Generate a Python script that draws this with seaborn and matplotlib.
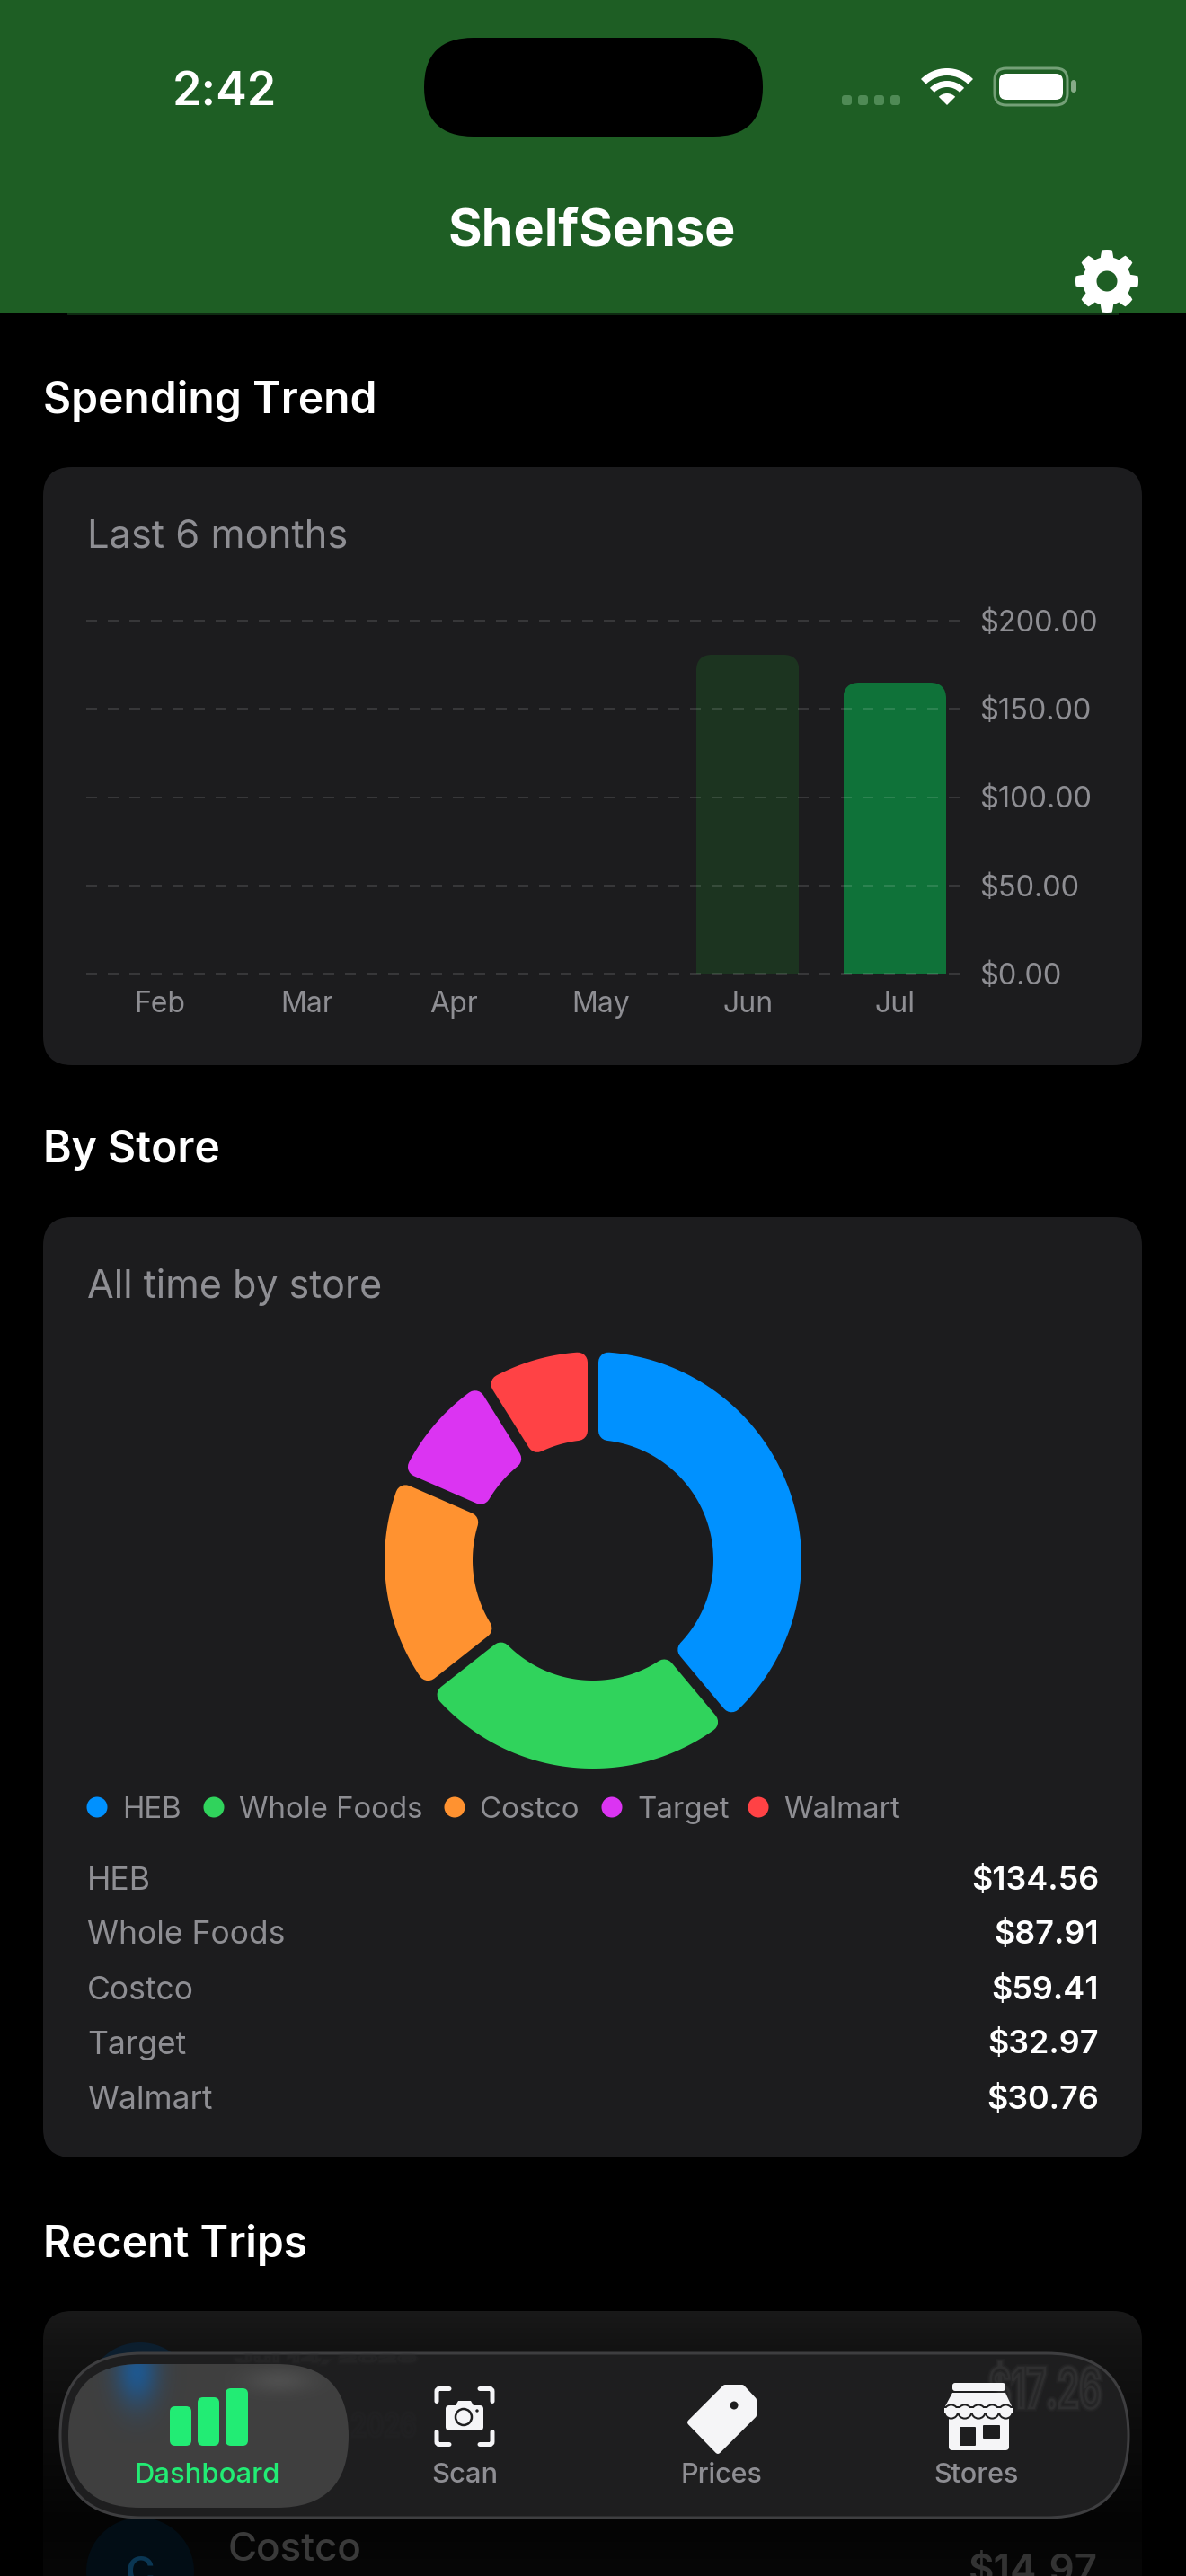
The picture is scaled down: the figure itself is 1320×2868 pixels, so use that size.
import numpy as np
import pandas as pd
import matplotlib
matplotlib.use("Agg")
import matplotlib.pyplot as plt
import seaborn as sns
from matplotlib.patches import FancyBboxPatch, Circle, Wedge, Polygon, PathPatch
from matplotlib.path import Path
from matplotlib.textpath import TextPath
from matplotlib.font_manager import FontProperties
from matplotlib.transforms import IdentityTransform

# chart data
months = ["Feb", "Mar", "Apr", "May", "Jun", "Jul"]
month_spend = [0, 0, 0, 0, 180.7, 164.9]
y_ticks = [0, 50, 100, 150, 200]
stores = ["HEB", "Whole Foods", "Costco", "Target", "Walmart"]
store_spend = [134.56, 87.91, 59.41, 32.97, 30.76]

# colours
store_colors = ["#0091FF", "#30D35C", "#FF9230", "#DB34F2", "#FF4245"]
bar_colors = ["#1C3420", "#1C3420", "#1C3420", "#1C3420", "#1C3420", "#0F7239"]
GREEN = "#1E5E24"
CARD = "#1C1C1E"
GREY = "#8E8E93"
ACTIVE = "#22EC74"
ICON = "#F5F5F7"
NAV = "#1E1E1F"
W, H = 1320, 2868

sns.set_theme(style="dark")
plt.rcParams["font.family"] = ["Inter", "DejaVu Sans"]

fig = plt.figure(figsize=(W / 100, H / 100), dpi=100, facecolor="black")


def axes_px(x0, y0, x1, y1, **kw):
    # axes from pixel box, y measured from the top
    return fig.add_axes([x0 / W, 1 - y1 / H, (x1 - x0) / W, (y1 - y0) / H], **kw)


def pt(px):
    return px * 0.72


# full page axes for the app chrome, in pixels
page = axes_px(0, 0, W, H, facecolor="black")
page.set_xlim(0, W)
page.set_ylim(H, 0)
page.axis("off")


def box(x0, y0, x1, y1, r, fc, ec="none", lw=0, z=2):
    p = FancyBboxPatch((x0, y0), x1 - x0, y1 - y0, boxstyle=f"round,pad=0,rounding_size={r}",
                       fc=fc, ec=ec, lw=pt(lw), zorder=z)
    page.add_patch(p)
    return p


def label(x, y, s, px, color="white", weight="normal", ha="left", z=6, **kw):
    return page.text(x, y, s, fontsize=pt(px), color=color, fontweight=weight, ha=ha, va="baseline", zorder=z, **kw)


def smeared(s, x0, y0, x1, y1, color, clip, z=2.1):
    # text seen through the frosted tab bar: squeezed into a box and drawn with soft strokes
    tp = TextPath((0, 0), s, size=1, prop=FontProperties(family="Inter", weight="semibold"))
    ext = tp.get_extents()
    v = tp.vertices.copy()
    v[:, 0] = x0 + (v[:, 0] - ext.x0) / ext.width * (x1 - x0)
    v[:, 1] = y1 - (v[:, 1] - ext.y0) / ext.height * (y1 - y0)
    for lw, a in [(8, 0.1), (5, 0.15), (2.5, 0.25)]:
        p = PathPatch(Path(v, tp.codes), fc="none", ec=color, lw=pt(lw), alpha=a, zorder=z)
        page.add_patch(p)
        p.set_clip_path(clip)


def soft_blob(color, cx, cy, sx, sy, peak, clip, x0, y0, x1, y1, z=2.4):
    yy, xx = np.mgrid[y0:y1, x0:x1]
    blob = np.zeros(xx.shape + (4,))
    blob[..., :3] = matplotlib.colors.to_rgb(color)
    blob[..., 3] = peak * np.exp(-((xx - cx) / sx) ** 2 - ((yy - cy) / sy) ** 2)
    page.imshow(blob, extent=(x0, x1, y1, y0), aspect="auto", zorder=z).set_clip_path(clip)
    page.set_xlim(0, W)
    page.set_ylim(H, 0)


# header
page.fill_between([0, W], 0, 348, color=GREEN, lw=0, zorder=1)
page.fill_between([75, 1245], 348, 351, color="#0E2A11", lw=0, zorder=1)
box(472, 42, 849, 152, 55, "black")
label(250, 117, "2:42", 52, weight="semibold", ha="center")
label(659, 273, "ShelfSense", 57.5, weight="bold", ha="center")

# signal dots
for i in range(4):
    box(937 + 18 * i, 106, 948 + 18 * i, 117, 3, "#4F8A55")
# wifi
page.add_patch(Wedge((1054, 117), 41, 225, 315, width=8, fc="white", lw=0, zorder=3))
page.add_patch(Wedge((1054, 117), 27, 225, 315, width=7, fc="white", lw=0, zorder=3))
page.add_patch(Wedge((1054, 117), 13, 225, 315, fc="white", lw=0, zorder=3))
# battery
box(1107, 76, 1188, 117, 13, "none", ec="#74A077", lw=3)
box(1112, 82, 1183, 111, 8, "white")
box(1192, 89, 1198, 103, 3, "#86AB88")

# settings gear
gear_a = np.linspace(0, 2 * np.pi, 721)
gear_r = 31 + 4 * np.clip(np.cos(8 * gear_a) * 2.4 + 0.3, -1, 1)
page.fill(1232 + gear_r * np.sin(gear_a), 313 - gear_r * np.cos(gear_a), color="white", lw=0, zorder=3)
page.add_patch(Circle((1232, 313), 11.5, fc=GREEN, lw=0, zorder=4))

# section titles and cards
label(48, 460, "Spending Trend", 48, weight="semibold")
box(48, 520, 1271, 1186, 32, CARD)
label(97, 610, "Last 6 months", 43.5, color=GREY)

label(48, 1294, "By Store", 48, weight="semibold")
box(48, 1355, 1271, 2402, 32, CARD)
label(97, 1445, "All time by store", 43, color=GREY)

# monthly bars
ax = axes_px(96, 691, 1069.4, 1084, facecolor="none", zorder=3)
spend_df = pd.DataFrame({"month": months, "spend": month_spend})
sns.barplot(data=spend_df, x="month", y="spend", hue="month", order=months, hue_order=months,
            palette=bar_colors, saturation=1, width=0.7, legend=False, ax=ax)
ax.set_xlim(-0.5, 5.45)
ax.set_ylim(0, 200)
ax.set_xlabel("")
ax.set_ylabel("")
ax.set_yticks(y_ticks)
ax.set_yticklabels([f"${v:.2f}" for v in y_ticks])
ax.yaxis.tick_right()
ax.tick_params(axis="y", length=0, pad=pt(21), labelsize=pt(32.5), labelcolor=GREY)
ax.tick_params(axis="x", length=0, pad=pt(19), labelsize=pt(32), labelcolor=GREY)
sns.despine(ax=ax, left=True, bottom=True, right=True, top=True)
ax.set_axisbelow(False)
ax.grid(axis="x", visible=False)
ax.grid(axis="y", visible=True, color="white", alpha=0.12, lw=pt(2), linestyle=(0, (6, 6)), clip_on=False)
for gl in ax.get_ygridlines():
    gl.set_dash_capstyle("butt")
    gl.set_clip_on(False)

# only the top corners of the bars are round, so clip them with a taller round box
for bar in ax.patches:
    bar.set_linewidth(0)
    if bar.get_height() <= 0:
        continue
    x0, y0 = ax.transData.transform((bar.get_x(), 0))
    x1, y1 = ax.transData.transform((bar.get_x() + bar.get_width(), bar.get_height()))
    clip = FancyBboxPatch((x0, y0 - 40), x1 - x0, y1 - y0 + 40, boxstyle="round,pad=0,rounding_size=18",
                          transform=IdentityTransform())
    bar.set_clip_path(clip)

# store donut: radius 1 in the pie is 232 px
donut = axes_px(660 - 290, 1737 - 290, 660 + 290, 1737 + 290, facecolor="none", zorder=3)
wedges, _ = donut.pie(store_spend, colors=store_colors, startangle=90, counterclock=False, radius=1,
                      wedgeprops={"width": 0.42})
donut.set_xlim(-1.25, 1.25)
donut.set_ylim(-1.25, 1.25)

R_OUT, R_IN, GAP, ROUND = 1.0, 134 / 232, 12 / 232, 11 / 232
for w in wedges:
    # parallel gaps and round corners: inset the outline, then stroke it with round joins
    off = GAP / 2 + ROUND
    ro, ri = R_OUT - ROUND, R_IN + ROUND
    outer = np.linspace(w.theta1 + np.degrees(np.arcsin(off / ro)), w.theta2 - np.degrees(np.arcsin(off / ro)), 80)
    inner = np.linspace(w.theta2 - np.degrees(np.arcsin(off / ri)), w.theta1 + np.degrees(np.arcsin(off / ri)), 80)
    pts = np.r_[np.c_[ro * np.cos(np.radians(outer)), ro * np.sin(np.radians(outer))],
                np.c_[ri * np.cos(np.radians(inner)), ri * np.sin(np.radians(inner))]]
    w._path = Path(np.r_[pts, pts[:1]], closed=True)
    w.set_edgecolor(w.get_facecolor())
    w.set_linewidth(pt(22))
    w.set_joinstyle("round")

# legend row
legend_dot_x = [108, 238, 506, 681, 844]
legend_text_x = [136, 266, 534, 709, 872]
for name, color, dx, tx in zip(stores, store_colors, legend_dot_x, legend_text_x):
    page.add_patch(Circle((dx, 2012), 11.5, fc=color, lw=0, zorder=3))
    label(tx, 2024, name, 33, color=GREY)

# store table
for i, (name, v) in enumerate(zip(stores, store_spend)):
    label(97, 2103.5 + 61 * i, name, 35.5, color=GREY)
    label(1223, 2103.5 + 61 * i, f"${v:.2f}", 36, weight="semibold", ha="right")

# recent trips card, fades out under the tab bar
label(48, 2513, "Recent Trips", 48, weight="semibold")
card3 = box(48, 2573, 1271, 2960, 32, "none", z=1)
levels = np.interp(np.arange(2573, 2869), [2573, 2610, 2810, 2868], [0x19, 0x13, 0x04, 0x07])
img = np.repeat((levels / 255)[:, None, None], 3, axis=2)
im = page.imshow(img, extent=(48, 1271, 2869, 2573), aspect="auto", zorder=1)
im.set_clip_path(card3)
page.set_xlim(0, W)
page.set_ylim(H, 0)

# trip rows behind the bar
page.add_patch(Circle((156, 2668), 60, fc="#0C1E2E", lw=0, zorder=1.5))
page.add_patch(Circle((156, 2863), 60, fc="#020D15", lw=0, zorder=1.5))
label(156, 2878, "C", 44, color="#0A3653", weight="semibold", ha="center", z=1.6)
label(254, 2851, "Costco", 44, color="#3A3A3A", weight="medium", z=1.6)
label(1222, 2875, "$14.97", 44, color="#333333", weight="semibold", ha="right", z=1.6)

# tab bar
nav = box(67, 2620, 1256, 2803, 91, NAV, ec="#3E3E40", lw=3, z=2)
pill = box(76, 2632, 388, 2792, 80, "#3F3F3F", z=2.2)
soft_blob("#1A5C9C", 152, 2640, 24, 38, 0.85, pill, 100, 2620, 220, 2720)
soft_blob("#555555", 310, 2650, 38, 14, 0.7, pill, 250, 2625, 380, 2680)
smeared("$17.26", 1102, 2630, 1224, 2687, "#484848", nav)
smeared("Jul 14, 2026", 263, 2622, 462, 2631, "#2E2E30", nav)
smeared("2026", 392, 2686, 462, 2713, "#262628", nav)

label(231, 2764, "Dashboard", 31, color=ACTIVE, weight="medium", ha="center")
label(517, 2764, "Scan", 31, color=GREY, weight="medium", ha="center")
label(803, 2764, "Prices", 30.5, color=GREY, weight="medium", ha="center")
label(1087, 2764, "Stores", 30.5, color=GREY, weight="medium", ha="center")

# dashboard icon
box(189, 2679, 213, 2723, 6, ACTIVE, z=5)
box(220, 2669, 244, 2723, 6, ACTIVE, z=5)
box(251, 2659, 276, 2723, 6, ACTIVE, z=5)

# scan icon: four corner brackets and a camera
for sx, sy in [(-1, -1), (1, -1), (-1, 1), (1, 1)]:
    cx, cy = 517 + sx * 31, 2690.5 + sy * 31
    verts = [(cx - sx * 14, cy), (cx - sx * 3, cy), (cx, cy), (cx, cy - sy * 3), (cx, cy - sy * 14)]
    codes = [Path.MOVETO, Path.LINETO, Path.CURVE3, Path.CURVE3, Path.LINETO]
    page.add_patch(PathPatch(Path(verts, codes), fc="none", ec=ICON, lw=pt(5), capstyle="round", zorder=5))
box(496, 2678, 538, 2706, 4, ICON, z=5)
page.add_patch(Polygon([(506, 2680), (510, 2673), (524, 2673), (528, 2680)], fc=ICON, lw=0, zorder=5))
page.add_patch(Circle((516, 2691), 9, fc=ICON, ec=NAV, lw=pt(2.5), zorder=6))
page.add_patch(Circle((531, 2684), 1.7, fc=NAV, lw=0, zorder=6))

# price tag icon
page.add_patch(Polygon([(807, 2658), (826, 2658), (839, 2672), (839, 2689), (799, 2729), (768, 2697)],
                       fc=ICON, ec=ICON, lw=pt(6), joinstyle="round", zorder=5))
page.add_patch(Circle((817, 2678), 4.5, fc=NAV, lw=0, zorder=6))

# store icon
box(1060, 2653, 1119, 2662, 3, ICON, z=5)
page.add_patch(Polygon([(1060, 2664), (1119, 2664), (1126, 2679), (1052, 2679)], fc=ICON, lw=0, zorder=5))
box(1056, 2688, 1123, 2728, 4, ICON, z=5)
for i in range(5):
    page.add_patch(Circle((1058.6 + 15.2 * i, 2685), 7.6, fc=ICON, ec=NAV, lw=pt(2), zorder=5.1))
page.fill_between([1051, 1127], 2681, 2685.5, color=ICON, lw=0, zorder=5.2)
box(1068, 2702, 1086, 2723, 1, NAV, z=5.3)
box(1094, 2700, 1113, 2715, 1, NAV, z=5.3)

fig.savefig("out.png", dpi=100, facecolor="black")
